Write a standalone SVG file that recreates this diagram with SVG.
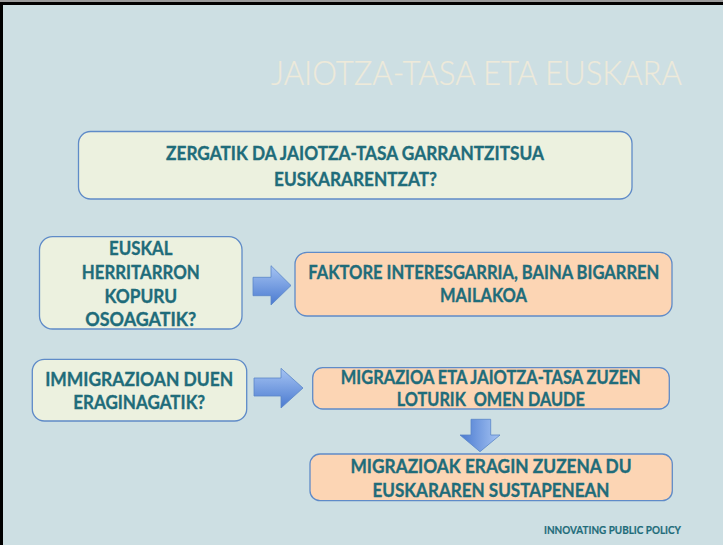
<svg xmlns="http://www.w3.org/2000/svg" width="723" height="545" viewBox="0 0 723 545">
<style>
.box1{fill:#ECF1DF;stroke:#5F8BC8;stroke-width:1.3}
.box2{fill:#FCD5B4;stroke:#5F8BC8;stroke-width:1.3}
.t{font-family:Lato,"Liberation Sans",sans-serif;font-weight:bold;fill:#1F6C7A;stroke:#1F6C7A;stroke-width:0.35;text-anchor:middle;font-size:18.8px;white-space:pre}
.title{font-family:Lato,"Liberation Sans",sans-serif;font-weight:300;fill:#EEEADA;stroke:#EEEADA;stroke-width:0.2;font-size:33px}
.foot{font-family:Lato,"Liberation Sans",sans-serif;font-weight:bold;fill:#1F6C7A;stroke:#1F6C7A;stroke-width:0.2;font-size:11.8px}
.arr{stroke:#5A86C8;stroke-width:0.8}
</style>
<defs>
<linearGradient id="gh" x1="0" y1="0" x2="0" y2="1">
<stop offset="0" stop-color="#A6C4F3"/>
<stop offset="1" stop-color="#4A7AD0"/>
</linearGradient>
<linearGradient id="gv" x1="1" y1="0" x2="0" y2="0">
<stop offset="0" stop-color="#A6C4F3"/>
<stop offset="1" stop-color="#4A7AD0"/>
</linearGradient>
</defs>
<rect x="0" y="0" width="723" height="545" fill="#CDDFE3"/>
<rect x="0" y="0" width="723" height="2" fill="#9A9A9A"/>
<rect x="0" y="2" width="723" height="3" fill="#000"/>
<rect x="0" y="2" width="3" height="543" fill="#000"/>
<text class="title" x="271" y="85" textLength="411" lengthAdjust="spacingAndGlyphs">JAIOTZA-TASA ETA EUSKARA</text>

<g id="q-main">
<rect class="box1" x="78.5" y="131.5" width="553.5" height="67.5" rx="12"/>
<text class="t" x="355" y="160" textLength="378" lengthAdjust="spacingAndGlyphs">ZERGATIK DA JAIOTZA-TASA GARRANTZITSUA</text>
<text class="t" x="355.5" y="185.7" textLength="163" lengthAdjust="spacingAndGlyphs">EUSKARARENTZAT?</text>
</g>

<g id="q-kopuru">
<rect class="box1" x="39.5" y="236.7" width="202.5" height="92.3" rx="13"/>
<text class="t" x="140.8" y="255" textLength="63.4" lengthAdjust="spacingAndGlyphs">EUSKAL</text>
<text class="t" x="140.8" y="279" textLength="118" lengthAdjust="spacingAndGlyphs">HERRITARRON</text>
<text class="t" x="140.8" y="303" textLength="72.7" lengthAdjust="spacingAndGlyphs">KOPURU</text>
<text class="t" x="140.8" y="325.7" textLength="111" lengthAdjust="spacingAndGlyphs">OSOAGATIK?</text>
</g>

<g id="a-faktore">
<rect class="box2" x="295" y="252.3" width="377" height="63.7" rx="12"/>
<text class="t" x="483.8" y="279.3" textLength="351" lengthAdjust="spacingAndGlyphs">FAKTORE INTERESGARRIA, BAINA BIGARREN</text>
<text class="t" x="483.5" y="301.7" textLength="87" lengthAdjust="spacingAndGlyphs">MAILAKOA</text>
</g>

<g id="q-immigrazio">
<rect class="box1" x="32.3" y="359.3" width="214.4" height="61.7" rx="12"/>
<text class="t" x="139.2" y="385.7" textLength="188" lengthAdjust="spacingAndGlyphs">IMMIGRAZIOAN DUEN</text>
<text class="t" x="139.2" y="409.3" textLength="132" lengthAdjust="spacingAndGlyphs">ERAGINAGATIK?</text>
</g>

<g id="a-migrazioa">
<rect class="box2" x="312.7" y="367.7" width="356.6" height="41.3" rx="10"/>
<text class="t" x="490.8" y="384.3" textLength="300" lengthAdjust="spacingAndGlyphs">MIGRAZIOA ETA JAIOTZA-TASA ZUZEN</text>
<text class="t" x="490.8" y="406" textLength="188" lengthAdjust="spacingAndGlyphs">LOTURIK  OMEN DAUDE</text>
</g>

<g id="a-eragin">
<rect class="box2" x="310" y="454" width="362.3" height="46.7" rx="10"/>
<text class="t" x="491" y="473.3" textLength="281" lengthAdjust="spacingAndGlyphs">MIGRAZIOAK ERAGIN ZUZENA DU</text>
<text class="t" x="491" y="496.7" textLength="237" lengthAdjust="spacingAndGlyphs">EUSKARAREN SUSTAPENEAN</text>
</g>

<g id="connectors">
<path class="arr" fill="url(#gh)" d="M253,277.3 H271 V265.7 L291,285.5 L271,305 V295.7 H253 Z"/>
<path class="arr" fill="url(#gh)" d="M254,378 H281 V368.3 L303,388 L281,408 V396 H254 Z"/>
<path class="arr" fill="url(#gv)" d="M471,419.3 H490.7 V435 H500 L480,451.7 L460,435 H471 Z"/>
</g>

<text class="foot" x="544" y="534.3" textLength="137" lengthAdjust="spacingAndGlyphs">INNOVATING PUBLIC POLICY</text>
</svg>
